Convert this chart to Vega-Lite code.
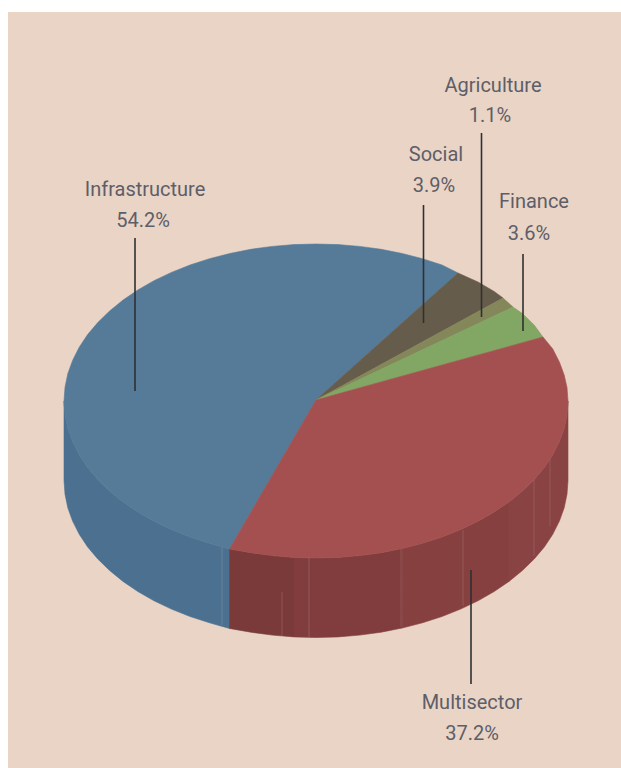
{"$schema":"https://vega.github.io/schema/vega-lite/v6.json","width":621,"height":768,"padding":0,"autosize":"none","background":"#ffffff","config":{"view":{"stroke":null}},
"datasets":{
"panel":[{"x":8,"x2":621,"y":12,"y2":768}],
"shapes":[
{"s":"Infrastructure wall","x":64,"y":401},{"s":"Infrastructure wall","x":65,"y":414.7},{"s":"Infrastructure wall","x":67.8,"y":428.3},{"s":"Infrastructure wall","x":72.6,"y":441.6},{"s":"Infrastructure wall","x":79.2,"y":454.7},{"s":"Infrastructure wall","x":87.6,"y":467.4},{"s":"Infrastructure wall","x":97.8,"y":479.5},{"s":"Infrastructure wall","x":109.6,"y":491},{"s":"Infrastructure wall","x":123,"y":501.9},{"s":"Infrastructure wall","x":137.8,"y":512},{"s":"Infrastructure wall","x":154,"y":521.3},{"s":"Infrastructure wall","x":171.4,"y":529.6},{"s":"Infrastructure wall","x":190,"y":537},{"s":"Infrastructure wall","x":209.5,"y":543.3},{"s":"Infrastructure wall","x":229.5,"y":549},{"s":"Infrastructure wall","x":229.5,"y":628.5},{"s":"Infrastructure wall","x":209.5,"y":622.8},{"s":"Infrastructure wall","x":190,"y":616.5},{"s":"Infrastructure wall","x":171.4,"y":609.1},{"s":"Infrastructure wall","x":154,"y":600.8},{"s":"Infrastructure wall","x":137.8,"y":591.5},{"s":"Infrastructure wall","x":123,"y":581.4},{"s":"Infrastructure wall","x":109.6,"y":570.5},{"s":"Infrastructure wall","x":97.8,"y":559},{"s":"Infrastructure wall","x":87.6,"y":546.9},{"s":"Infrastructure wall","x":79.2,"y":534.2},{"s":"Infrastructure wall","x":72.6,"y":521.1},{"s":"Infrastructure wall","x":67.8,"y":507.8},{"s":"Infrastructure wall","x":65,"y":494.2},{"s":"Infrastructure wall","x":64,"y":480.5},
{"s":"Multisector wall 1","x":229.5,"y":549},{"s":"Multisector wall 1","x":250.8,"y":552.7},{"s":"Multisector wall 1","x":272.2,"y":555.6},{"s":"Multisector wall 1","x":294,"y":557.4},{"s":"Multisector wall 1","x":294,"y":636.9},{"s":"Multisector wall 1","x":272.2,"y":635.1},{"s":"Multisector wall 1","x":250.8,"y":632.2},{"s":"Multisector wall 1","x":229.5,"y":628.5},
{"s":"Multisector wall 2","x":294,"y":557.4},{"s":"Multisector wall 2","x":316,"y":558},{"s":"Multisector wall 2","x":338,"y":557.4},{"s":"Multisector wall 2","x":359.8,"y":555.6},{"s":"Multisector wall 2","x":381.2,"y":552.7},{"s":"Multisector wall 2","x":402.2,"y":548.5},{"s":"Multisector wall 2","x":402.2,"y":628},{"s":"Multisector wall 2","x":381.2,"y":632.2},{"s":"Multisector wall 2","x":359.8,"y":635.1},{"s":"Multisector wall 2","x":338,"y":636.9},{"s":"Multisector wall 2","x":316,"y":637.5},{"s":"Multisector wall 2","x":294,"y":636.9},
{"s":"Multisector wall 3","x":402.2,"y":548.5},{"s":"Multisector wall 3","x":422.5,"y":543.3},{"s":"Multisector wall 3","x":442,"y":537},{"s":"Multisector wall 3","x":460.6,"y":529.6},{"s":"Multisector wall 3","x":478,"y":521.3},{"s":"Multisector wall 3","x":494.2,"y":512},{"s":"Multisector wall 3","x":509,"y":501.9},{"s":"Multisector wall 3","x":509,"y":581.4},{"s":"Multisector wall 3","x":494.2,"y":591.5},{"s":"Multisector wall 3","x":478,"y":600.8},{"s":"Multisector wall 3","x":460.6,"y":609.1},{"s":"Multisector wall 3","x":442,"y":616.5},{"s":"Multisector wall 3","x":422.5,"y":622.8},{"s":"Multisector wall 3","x":402.2,"y":628},
{"s":"Multisector wall 4","x":509,"y":501.9},{"s":"Multisector wall 4","x":522.4,"y":491},{"s":"Multisector wall 4","x":534.2,"y":479.5},{"s":"Multisector wall 4","x":544.4,"y":467.4},{"s":"Multisector wall 4","x":552.8,"y":454.7},{"s":"Multisector wall 4","x":559.4,"y":441.6},{"s":"Multisector wall 4","x":564.2,"y":428.3},{"s":"Multisector wall 4","x":567,"y":414.7},{"s":"Multisector wall 4","x":568,"y":401},{"s":"Multisector wall 4","x":568,"y":480.5},{"s":"Multisector wall 4","x":567,"y":494.2},{"s":"Multisector wall 4","x":564.2,"y":507.8},{"s":"Multisector wall 4","x":559.4,"y":521.1},{"s":"Multisector wall 4","x":552.8,"y":534.2},{"s":"Multisector wall 4","x":544.4,"y":546.9},{"s":"Multisector wall 4","x":534.2,"y":559},{"s":"Multisector wall 4","x":522.4,"y":570.5},{"s":"Multisector wall 4","x":509,"y":581.4},
{"s":"Infrastructure","x":316,"y":400},{"s":"Infrastructure","x":458,"y":273},{"s":"Infrastructure","x":442,"y":265},{"s":"Infrastructure","x":422.5,"y":258.7},{"s":"Infrastructure","x":402.2,"y":253.5},{"s":"Infrastructure","x":381.2,"y":249.3},{"s":"Infrastructure","x":359.8,"y":246.4},{"s":"Infrastructure","x":338,"y":244.6},{"s":"Infrastructure","x":316,"y":244},{"s":"Infrastructure","x":294,"y":244.6},{"s":"Infrastructure","x":272.2,"y":246.4},{"s":"Infrastructure","x":250.8,"y":249.3},{"s":"Infrastructure","x":229.8,"y":253.5},{"s":"Infrastructure","x":209.5,"y":258.7},{"s":"Infrastructure","x":190,"y":265},{"s":"Infrastructure","x":171.4,"y":272.4},{"s":"Infrastructure","x":154,"y":280.7},{"s":"Infrastructure","x":137.8,"y":290},{"s":"Infrastructure","x":123,"y":300.1},{"s":"Infrastructure","x":109.6,"y":311},{"s":"Infrastructure","x":97.8,"y":322.5},{"s":"Infrastructure","x":87.6,"y":334.6},{"s":"Infrastructure","x":79.2,"y":347.3},{"s":"Infrastructure","x":72.6,"y":360.4},{"s":"Infrastructure","x":67.8,"y":373.7},{"s":"Infrastructure","x":65,"y":387.3},{"s":"Infrastructure","x":64,"y":401},{"s":"Infrastructure","x":65,"y":414.7},{"s":"Infrastructure","x":67.8,"y":428.3},{"s":"Infrastructure","x":72.6,"y":441.6},{"s":"Infrastructure","x":79.2,"y":454.7},{"s":"Infrastructure","x":87.6,"y":467.4},{"s":"Infrastructure","x":97.8,"y":479.5},{"s":"Infrastructure","x":109.6,"y":491},{"s":"Infrastructure","x":123,"y":501.9},{"s":"Infrastructure","x":137.8,"y":512},{"s":"Infrastructure","x":154,"y":521.3},{"s":"Infrastructure","x":171.4,"y":529.6},{"s":"Infrastructure","x":190,"y":537},{"s":"Infrastructure","x":209.5,"y":543.3},{"s":"Infrastructure","x":229.5,"y":549},
{"s":"Social","x":316,"y":400},{"s":"Social","x":503,"y":298},{"s":"Social","x":494.2,"y":291.5},{"s":"Social","x":478,"y":282},{"s":"Social","x":458,"y":273},
{"s":"Agriculture","x":316,"y":400},{"s":"Agriculture","x":513,"y":307},{"s":"Agriculture","x":503,"y":298},
{"s":"Finance","x":316,"y":400},{"s":"Finance","x":543,"y":337},{"s":"Finance","x":534.2,"y":325},{"s":"Finance","x":522.4,"y":313.5},{"s":"Finance","x":513,"y":307},
{"s":"Multisector","x":316,"y":400},{"s":"Multisector","x":229.5,"y":549},{"s":"Multisector","x":250.8,"y":552.7},{"s":"Multisector","x":272.2,"y":555.6},{"s":"Multisector","x":294,"y":557.4},{"s":"Multisector","x":316,"y":558},{"s":"Multisector","x":338,"y":557.4},{"s":"Multisector","x":359.8,"y":555.6},{"s":"Multisector","x":381.2,"y":552.7},{"s":"Multisector","x":402.2,"y":548.5},{"s":"Multisector","x":422.5,"y":543.3},{"s":"Multisector","x":442,"y":537},{"s":"Multisector","x":460.6,"y":529.6},{"s":"Multisector","x":478,"y":521.3},{"s":"Multisector","x":494.2,"y":512},{"s":"Multisector","x":509,"y":501.9},{"s":"Multisector","x":522.4,"y":491},{"s":"Multisector","x":534.2,"y":479.5},{"s":"Multisector","x":544.4,"y":467.4},{"s":"Multisector","x":552.8,"y":454.7},{"s":"Multisector","x":559.4,"y":441.6},{"s":"Multisector","x":564.2,"y":428.3},{"s":"Multisector","x":567,"y":414.7},{"s":"Multisector","x":568,"y":401},{"s":"Multisector","x":567,"y":387.5},{"s":"Multisector","x":564.2,"y":375},{"s":"Multisector","x":559.4,"y":362},{"s":"Multisector","x":552.8,"y":349},{"s":"Multisector","x":543,"y":337}
],
"seams":[{"x":222,"y":547,"y2":625,"c":"#7F9AAE"},{"x":282,"y":592,"y2":636,"c":"#A2706C"},{"x":309,"y":558,"y2":637,"c":"#A87C78"},{"x":401,"y":549,"y2":627,"c":"#A2706C"},{"x":463,"y":530,"y2":606,"c":"#A2706C"},{"x":534,"y":480,"y2":556,"c":"#A2706C"},{"x":550,"y":459,"y2":526,"c":"#A2706C"}],
"callouts":[{"name":"Infrastructure","x":135,"y":238,"y2":391},{"name":"Social","x":423.5,"y":205,"y2":323},{"name":"Agriculture","x":481.5,"y":133,"y2":317},{"name":"Finance","x":523,"y":254,"y2":331},{"name":"Multisector","x":471,"y":570,"y2":684}],
"labels":[{"t":"Infrastructure","x":145,"y":196},{"t":"54.2%","x":143,"y":227},{"t":"Social","x":436,"y":161},{"t":"3.9%","x":434,"y":192},{"t":"Agriculture","x":493,"y":92},{"t":"1.1%","x":490,"y":122},{"t":"Finance","x":534,"y":208},{"t":"3.6%","x":529,"y":240},{"t":"Multisector","x":472,"y":709},{"t":"37.2%","x":472,"y":740}]
},
"layer":[
{"data":{"name":"panel"},"mark":{"type":"rect","color":"#E9D4C6"},"encoding":{"x":{"field":"x","type":"quantitative","scale":{"domain":[0,621],"nice":false,"zero":false},"axis":null},"x2":{"field":"x2"},"y":{"field":"y","type":"quantitative","scale":{"domain":[768,0],"nice":false,"zero":false},"axis":null},"y2":{"field":"y2"}}},
{"data":{"name":"shapes"},"mark":{"type":"line","strokeWidth":0.6,"interpolate":"linear-closed"},"encoding":{"x":{"field":"x","type":"quantitative","axis":null},"y":{"field":"y","type":"quantitative","axis":null},"order":{"value":null},
"fill":{"field":"s","type":"nominal","legend":null,"scale":{"domain":["Infrastructure wall","Multisector wall 1","Multisector wall 2","Multisector wall 3","Multisector wall 4","Infrastructure","Social","Agriculture","Finance","Multisector"],"range":["#4B7090","#7A3A3A","#813D3D","#864040","#8A4343","#557B99","#665C4C","#84875A","#82A663","#A55050"]}},
"stroke":{"field":"s","type":"nominal","legend":null,"scale":{"domain":["Infrastructure wall","Multisector wall 1","Multisector wall 2","Multisector wall 3","Multisector wall 4","Infrastructure","Social","Agriculture","Finance","Multisector"],"range":["#4B7090","#7A3A3A","#813D3D","#864040","#8A4343","#557B99","#665C4C","#84875A","#82A663","#A55050"]}}}},
{"data":{"name":"seams"},"mark":{"type":"rule","strokeWidth":1,"opacity":0.5},"encoding":{"x":{"field":"x","type":"quantitative"},"y":{"field":"y","type":"quantitative"},"y2":{"field":"y2"},"color":{"field":"c","type":"nominal","scale":null}}},
{"data":{"name":"callouts"},"mark":{"type":"rule","strokeWidth":1.6,"color":"#303030"},"encoding":{"x":{"field":"x","type":"quantitative"},"y":{"field":"y","type":"quantitative"},"y2":{"field":"y2"}}},
{"data":{"name":"labels"},"mark":{"type":"text","font":"Roboto","fontSize":20,"align":"center","baseline":"alphabetic","color":"#5E5E68"},"encoding":{"x":{"field":"x","type":"quantitative"},"y":{"field":"y","type":"quantitative"},"text":{"field":"t","type":"nominal"}}}
]}
